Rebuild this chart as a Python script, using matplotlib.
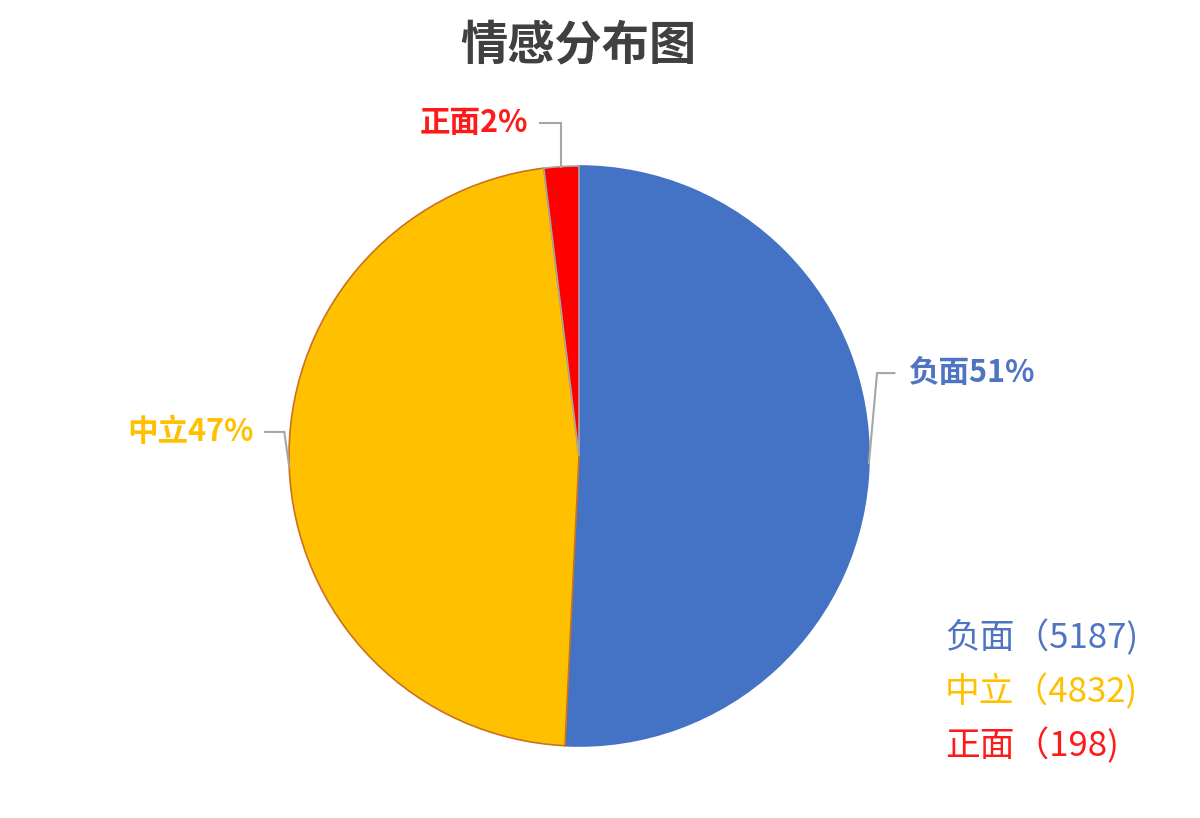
import numpy as np
import matplotlib
matplotlib.use("Agg")
import matplotlib.pyplot as plt

plt.rcParams['font.family'] = ['Noto Sans CJK SC', 'DejaVu Sans']

# data
names = ["负面", "中立", "正面"]
counts = [5187, 4832, 198]
colors = ["#4472C4", "#FFC000", "#FF0000"]
edges = ["#4472C4", "#C8741E", "#A6A6A6"]
text_colors = ["#4F74C2", "#FFC000", "#FF1A1A"]

total = sum(counts)
pcts = [round(c / total * 100) for c in counts]

fig = plt.figure(figsize=(12, 8.18), dpi=100)
ax = fig.add_axes([289 / 1200, 72 / 818, 580 / 1200, 580 / 818])

wedges, _ = ax.pie(counts, colors=colors, startangle=90, counterclock=False,
                   radius=1, wedgeprops=dict(linewidth=1.2))
for w, ec in zip(wedges, edges):
    w.set_edgecolor(ec)
ax.set_xlim(-1, 1)
ax.set_ylim(-1, 1)
ax.set_aspect('equal')
ax.axis('off')

# leader lines: elbow (x, y) offsets and horizontal run for each label
elbow_y = [0.286, 0.083, 1.148]
run = [0.06, -0.066, -0.074]
elbow_dx = [0.028, -0.017, 0.0]
for w, n, p, tc, ey, r, dx in zip(wedges, names, pcts, text_colors, elbow_y, run, elbow_dx):
    ang = np.deg2rad((w.theta1 + w.theta2) / 2)
    x0, y0 = np.cos(ang), np.sin(ang)
    x1 = x0 + dx
    x2 = x1 + r
    ax.plot([x0, x1, x2], [y0, ey, ey], color="#A6A6A6", lw=1.5,
            clip_on=False, solid_joinstyle='miter')
    if r > 0:
        ax.text(x2 + 0.05, ey, f"{n}{p}%", color=tc, fontsize=22,
                fontweight='bold', ha='left', va='center')
    else:
        ax.text(x2 - 0.04, ey, f"{n}{p}%", color=tc, fontsize=22,
                fontweight='bold', ha='right', va='center')

fig.text(578 / 1200, 1 - 45 / 818, "情感分布图", fontsize=34, fontweight='bold',
         color="#404040", ha='center', va='center')

for i, (n, c, tc) in enumerate(zip(names, counts, text_colors)):
    fig.text(945 / 1200, 1 - (638 + 54 * i) / 818, f"{n}（{c})", color=tc,
             fontsize=25, ha='left', va='center')

fig.savefig("out.png", dpi=100, facecolor='white')
